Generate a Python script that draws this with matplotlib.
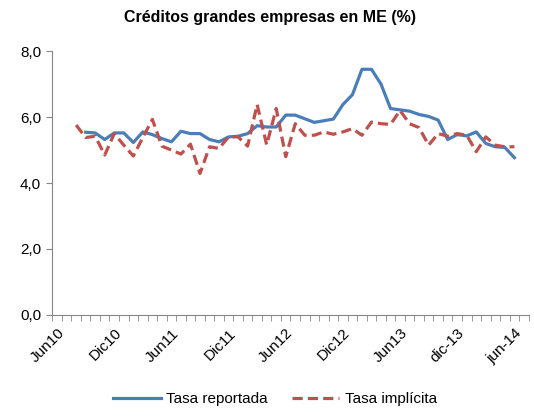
import matplotlib.pyplot as plt
import matplotlib.transforms as mtransforms
import numpy as np

# monthly categories Jun10 .. Jul14 (50 slots)
n_months = 50
tick_idx = [0, 6, 12, 18, 24, 30, 36, 42, 48]
tick_labels = ['Jun10', 'Dic10', 'Jun11', 'Dic11', 'Jun12', 'Dic12', 'Jun13', 'dic-13', 'jun-14']

# Tasa reportada starts at Sep10 (index 3)
reportada_start = 3
reportada = [5.54, 5.52, 5.32, 5.52, 5.52, 5.23, 5.55, 5.47, 5.35, 5.25,
             5.57, 5.50, 5.50, 5.32, 5.25, 5.40, 5.42, 5.50, 5.74, 5.70,
             5.70, 6.06, 6.06, 5.95, 5.84, 5.89, 5.94, 6.38, 6.68, 7.45,
             7.45, 7.00, 6.26, 6.22, 6.18, 6.08, 6.02, 5.91, 5.32, 5.47,
             5.43, 5.55, 5.20, 5.10, 5.08, 4.77]

# Tasa implicita starts at Aug10 (index 2)
implicita_start = 2
implicita = [5.76, 5.38, 5.42, 4.85, 5.50, 5.15, 4.82, 5.38, 5.93, 5.12,
             5.00, 4.88, 5.18, 4.29, 5.10, 5.05, 5.40, 5.40, 5.12, 6.38,
             5.16, 6.26, 4.80, 5.80, 5.45, 5.45, 5.55, 5.48, 5.55, 5.65,
             5.45, 5.85, 5.80, 5.78, 6.20, 5.80, 5.68, 5.15, 5.50, 5.42,
             5.50, 5.45, 4.95, 5.40, 5.15, 5.10, 5.10]

blue = '#4A7EBB'
red = '#C0504D'
axis_gray = '#868686'

plt.rcParams['font.family'] = ['Liberation Sans', 'DejaVu Sans']

fig = plt.figure(figsize=(5.34, 4.16), dpi=100)
ax = fig.add_axes([0.098, 0.243, 0.892, 0.634])

x_rep = np.arange(reportada_start, reportada_start + len(reportada))
x_imp = np.arange(implicita_start, implicita_start + len(implicita))

ax.plot(x_rep, reportada, color=blue, lw=2.3, label='Tasa reportada', solid_joinstyle='round')
ax.plot(x_imp, implicita, color=red, lw=2.3, ls=(0, (3.2, 1.6)), label='Tasa implícita')

ax.set_xlim(-0.5, n_months - 0.5)
ax.set_ylim(0, 8)
ax.set_yticks([0, 2, 4, 6, 8])
ax.set_yticklabels([f'{v:.1f}'.replace('.', ',') for v in [0, 2, 4, 6, 8]], fontsize=11)

ax.set_xticks(tick_idx)
ax.set_xticklabels(tick_labels, rotation=45, ha='right', rotation_mode='anchor', fontsize=11)
# nudge rotated labels a bit to the left, like the original
shift = mtransforms.ScaledTranslation(-6 / 100, 0, fig.dpi_scale_trans)
for lab in ax.get_xticklabels():
    lab.set_transform(lab.get_transform() + shift)
ax.set_xticks(np.arange(n_months + 1) - 0.5, minor=True)
ax.tick_params(axis='x', which='major', length=0, pad=8)
ax.tick_params(axis='x', which='minor', length=4, color=axis_gray, direction='out')
ax.tick_params(axis='y', length=4, color=axis_gray, direction='out', pad=4)

for s in ['top', 'right']:
    ax.spines[s].set_visible(False)
for s in ['left', 'bottom']:
    ax.spines[s].set_color(axis_gray)

fig.suptitle('Créditos grandes empresas en ME (%)', x=0.505, y=0.975, fontsize=11.5, fontweight='bold')

fig.legend(loc='lower center', bbox_to_anchor=(0.515, -0.01), ncol=2, frameon=False,
           fontsize=11, handlelength=3.1, columnspacing=1.6, handletextpad=0.35)

fig.savefig('out.png', dpi=100)
